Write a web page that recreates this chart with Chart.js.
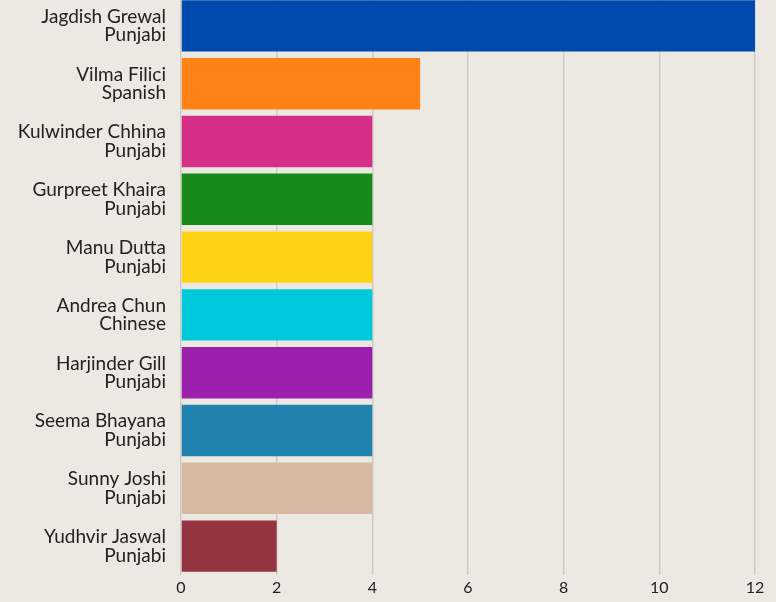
<!DOCTYPE html>
<html>
<head>
<meta charset="utf-8">
<script src="https://cdn.jsdelivr.net/npm/chart.js@4.4.1/dist/chart.umd.min.js"></script>
<style>
  html, body { margin: 0; padding: 0; background: #ECE9E3; overflow: hidden; }
  #wrap { position: absolute; left: 0; top: -3px; width: 776px; height: 605px; }
</style>
</head>
<body>
<div id="wrap"><canvas id="c"></canvas></div>
<script>
const names = ["Jagdish Grewal", "Vilma Filici", "Kulwinder Chhina", "Gurpreet Khaira", "Manu Dutta", "Andrea Chun", "Harjinder Gill", "Seema Bhayana", "Sunny Joshi", "Yudhvir Jaswal"];
const languages = ["Punjabi", "Spanish", "Punjabi", "Punjabi", "Punjabi", "Chinese", "Punjabi", "Punjabi", "Punjabi", "Punjabi"];
const values = [12, 5, 4, 4, 4, 4, 4, 4, 4, 2];
const barColors = ["#004AAD", "#FF8217", "#D52F8A", "#178A1A", "#FFD314", "#00C9DB", "#9D1FAE", "#2183AF", "#D6B9A0", "#943440"];
const xTicks = [0, 2, 4, 6, 8, 10, 12];

const labels = names.map((n, i) => [n, languages[i]]);

new Chart(document.getElementById('c'), {
  type: 'bar',
  data: {
    labels: labels,
    datasets: [{
      data: values,
      backgroundColor: barColors,
      borderWidth: 0,
      barPercentage: 0.89,
      categoryPercentage: 1.0
    }]
  },
  options: {
    indexAxis: 'y',
    responsive: true,
    maintainAspectRatio: false,
    animation: false,
    layout: { padding: { top: 0, right: 21, bottom: 0, left: 0 } },
    plugins: { legend: { display: false }, tooltip: { enabled: false } },
    scales: {
      x: {
        min: 0, max: 12,
        afterBuildTicks: (s) => { s.ticks = xTicks.map(v => ({ value: v })); },
        afterFit: (s) => { s.height = 27; s.paddingLeft = 0; s.paddingRight = 0; },
        grid: { color: '#CFCCC8', lineWidth: 1.5, drawTicks: false },
        border: { display: false },
        ticks: { color: '#222', padding: 3, font: { family: 'Lato', size: 16 } }
      },
      y: {
        afterFit: (s) => { s.width = 181; s.paddingTop = 0; s.paddingBottom = 0; },
        grid: { display: false, drawTicks: false },
        border: { display: false },
        ticks: { color: '#222', padding: 15, font: { family: 'Lato', size: 19, lineHeight: 0.98 } }
      }
    }
  }
});
</script>
</body>
</html>
